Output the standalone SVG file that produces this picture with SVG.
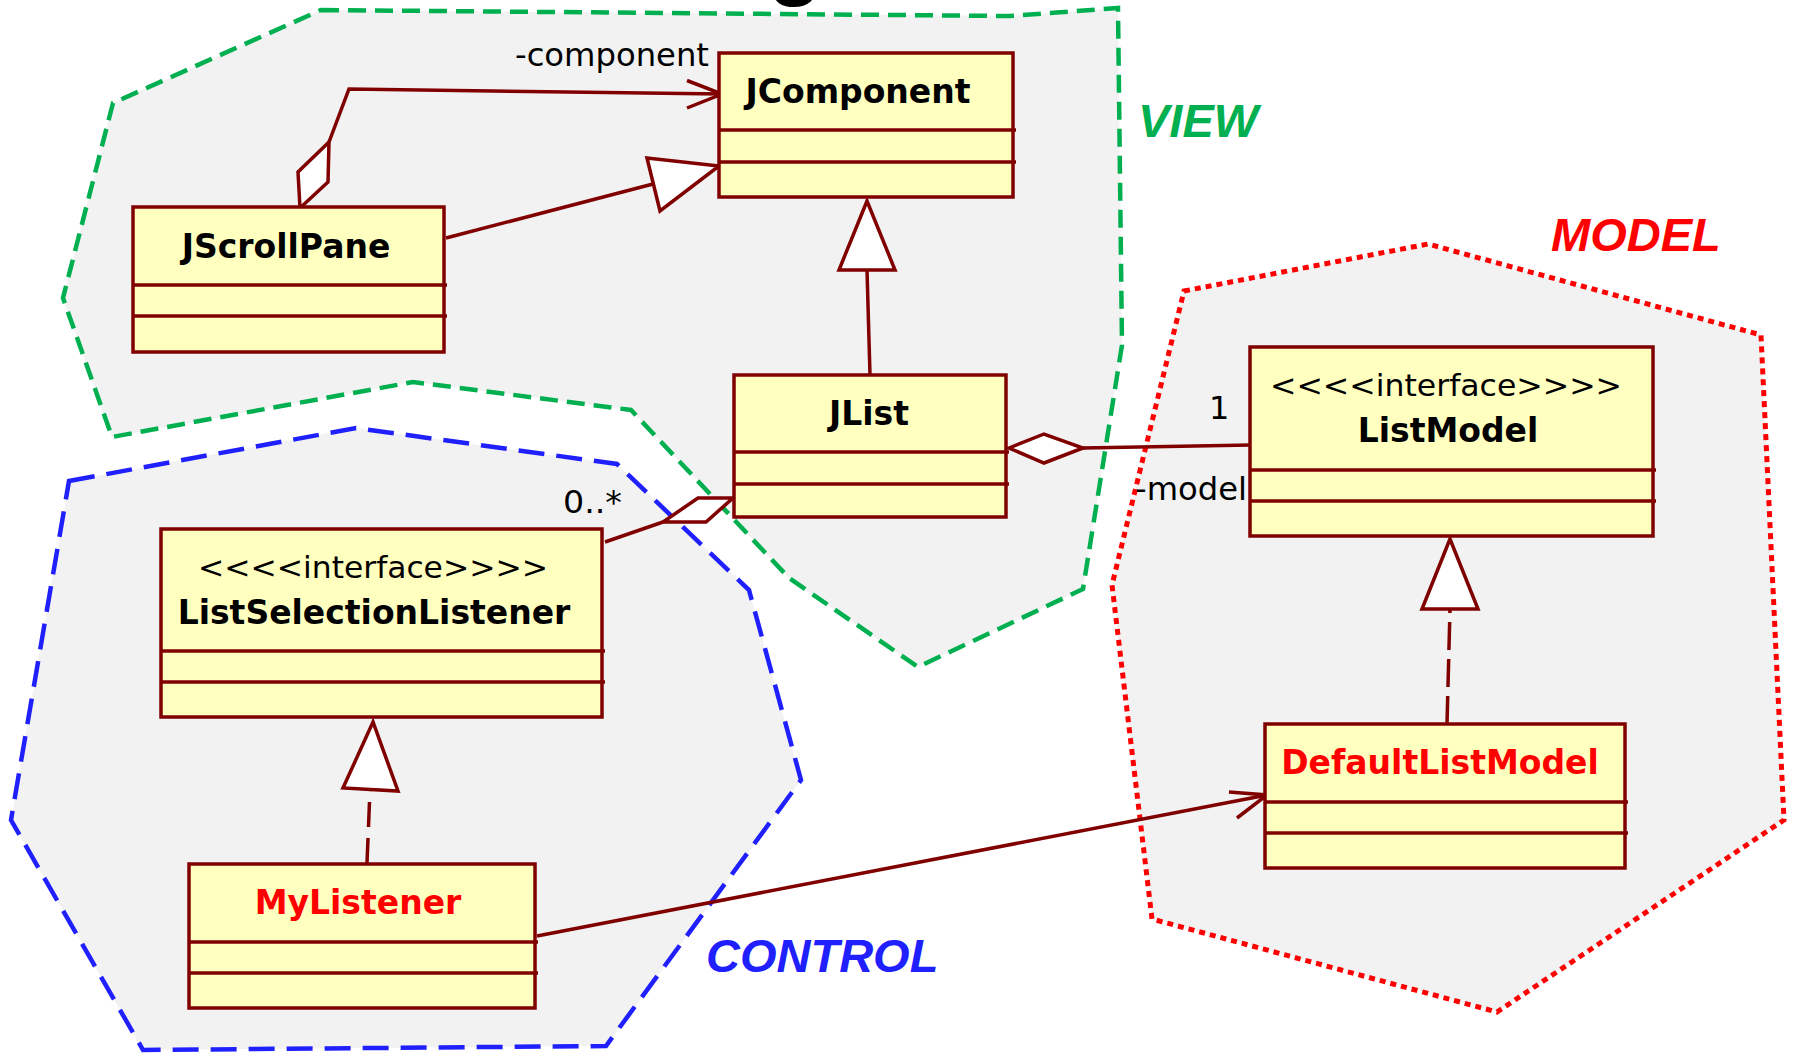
<svg xmlns="http://www.w3.org/2000/svg" width="1794" height="1054" viewBox="0 0 1794 1054">
<style>
.bg{fill:#ffffff}
.region{fill:#f2f2f2}
.view{stroke:#00b050;stroke-width:4.5;stroke-dasharray:18 9;fill:#f2f2f2}
.ctrl{stroke:#2020ff;stroke-width:4.5;stroke-dasharray:26 12;fill:#f2f2f2}
.model{stroke:#ff0000;stroke-width:5;stroke-dasharray:6 5;fill:#f2f2f2}
.box{fill:#ffffbf;stroke:#800000;stroke-width:3.5}
.sep{stroke:#800000;stroke-width:3.5}
.name{font-family:"DejaVu Sans",sans-serif;font-weight:bold;font-size:33px;text-anchor:middle;fill:#000}
.red{fill:#ff0000}
.stereo{font-family:"DejaVu Sans",sans-serif;font-size:31px;text-anchor:middle;fill:#000}
.lbl{font-family:"DejaVu Sans",sans-serif;font-size:32px;fill:#000}
.rlabel{font-family:"Liberation Sans",Arial,sans-serif;font-weight:bold;font-style:italic;font-size:47px}
.conn{stroke:#800000;stroke-width:3.5;fill:none}
.head{stroke:#800000;stroke-width:3.5;fill:#ffffff;stroke-linejoin:miter}
.dash{stroke:#800000;stroke-width:3.5;fill:none}
</style>
<rect class="bg" x="0" y="0" width="1794" height="1054"/>
<text x="795" y="-12" style="font-family:'Liberation Sans',Arial,sans-serif;font-weight:bold;font-size:90px;text-anchor:middle;fill:#000">g</text>

<g id="regions">
<polygon id="view-region" class="view" points="321,10 1009,16 1118,8 1122,345 1083,589 918,667 789,578 631,410 413,382 112,437 63,298 113,103"/>
<polygon id="control-region" class="ctrl" points="69,481 356,428 617,464 749,590 801,780 606,1046 143,1050 11,820"/>
<polygon id="model-region" class="model" points="1184,291 1428,244 1761,335 1784,820 1497,1012 1152,919 1112,585"/>
<text class="rlabel" x="1138" y="137" fill="#00b050">VIEW</text>
<text class="rlabel" x="1551" y="251" fill="#ff0000">MODEL</text>
<text class="rlabel" x="706" y="972" fill="#2020ff">CONTROL</text>
</g>

<g id="connectors">
<!-- JScrollPane aggregation to JComponent -->
<polyline class="conn" points="329,142 349,89 722,94"/>
<polyline class="conn" points="687,80.5 722,94 687,108"/>
<polygon class="head" points="300,208 298,172 329,142 328,182"/>
<text class="lbl" x="515" y="66" textLength="194" lengthAdjust="spacingAndGlyphs">-component</text>
<!-- JScrollPane generalization -->
<line class="conn" x1="446" y1="238" x2="653" y2="184"/>
<polygon class="head" points="647,158 660,211 719,166"/>
<!-- JList generalization -->
<line class="conn" x1="870" y1="375" x2="867" y2="270"/>
<polygon class="head" points="839,270 895,270 867,201"/>
<!-- JList aggregation ListModel -->
<line class="conn" x1="1083" y1="448" x2="1251" y2="445"/>
<polygon class="head" points="1009,448 1044,434 1083,448 1044,463"/>
<text class="lbl" x="1209" y="419">1</text>
<text class="lbl" x="1135" y="500" textLength="112" lengthAdjust="spacingAndGlyphs">-model</text>
<!-- JList aggregation ListSelectionListener -->
<line class="conn" x1="605" y1="542" x2="663" y2="522"/>
<polygon class="head" points="733,498 698,498 663,522 706,522"/>
<text class="lbl" x="563" y="513" textLength="59" lengthAdjust="spacingAndGlyphs">0..*</text>
<!-- MyListener realization -->
<line class="dash" x1="367" y1="863" x2="370" y2="790" stroke-dasharray="25 11"/>
<polygon class="head" points="373,722 343,788 398,791"/>
<!-- DefaultListModel realization -->
<line class="dash" x1="1447" y1="724" x2="1450" y2="609" stroke-dasharray="28 9"/>
<polygon class="head" points="1450,539 1422,609 1478,609"/>
<!-- MyListener association DefaultListModel -->
<line class="conn" x1="537" y1="936" x2="1267" y2="795"/>
<polyline class="conn" points="1229,792 1267,795 1237,818"/>
</g>

<g id="JComponent">
<rect class="box" x="719" y="53" width="294" height="144"/>
<line class="sep" x1="719" y1="130" x2="1016" y2="130"/>
<line class="sep" x1="719" y1="162" x2="1016" y2="162"/>
<text class="name" x="858" y="103">JComponent</text>
</g>
<g id="JScrollPane">
<rect class="box" x="133" y="207" width="311" height="145"/>
<line class="sep" x1="133" y1="285" x2="447" y2="285"/>
<line class="sep" x1="133" y1="316" x2="447" y2="316"/>
<text class="name" x="286" y="258">JScrollPane</text>
</g>
<g id="JList">
<rect class="box" x="734" y="375" width="272" height="142"/>
<line class="sep" x1="734" y1="452" x2="1009" y2="452"/>
<line class="sep" x1="734" y1="484" x2="1009" y2="484"/>
<text class="name" x="869" y="425">JList</text>
</g>
<g id="ListModel">
<rect class="box" x="1250" y="347" width="403" height="189"/>
<line class="sep" x1="1250" y1="470" x2="1656" y2="470"/>
<line class="sep" x1="1250" y1="501" x2="1656" y2="501"/>
<text class="stereo" x="1446" y="396" textLength="352" lengthAdjust="spacingAndGlyphs">&lt;&lt;&lt;&lt;interface&gt;&gt;&gt;&gt;</text>
<text class="name" x="1448" y="442">ListModel</text>
</g>
<g id="ListSelectionListener">
<rect class="box" x="161" y="529" width="441" height="188"/>
<line class="sep" x1="161" y1="651" x2="605" y2="651"/>
<line class="sep" x1="161" y1="682" x2="605" y2="682"/>
<text class="stereo" x="373" y="578" textLength="350" lengthAdjust="spacingAndGlyphs">&lt;&lt;&lt;&lt;interface&gt;&gt;&gt;&gt;</text>
<text class="name" x="374" y="624">ListSelectionListener</text>
</g>
<g id="MyListener">
<rect class="box" x="189" y="864" width="346" height="144"/>
<line class="sep" x1="189" y1="942" x2="538" y2="942"/>
<line class="sep" x1="189" y1="973" x2="538" y2="973"/>
<text class="name red" x="358" y="914">MyListener</text>
</g>
<g id="DefaultListModel">
<rect class="box" x="1265" y="724" width="360" height="144"/>
<line class="sep" x1="1265" y1="802" x2="1628" y2="802"/>
<line class="sep" x1="1265" y1="833" x2="1628" y2="833"/>
<text class="name red" x="1440" y="774">DefaultListModel</text>
</g>
</svg>
